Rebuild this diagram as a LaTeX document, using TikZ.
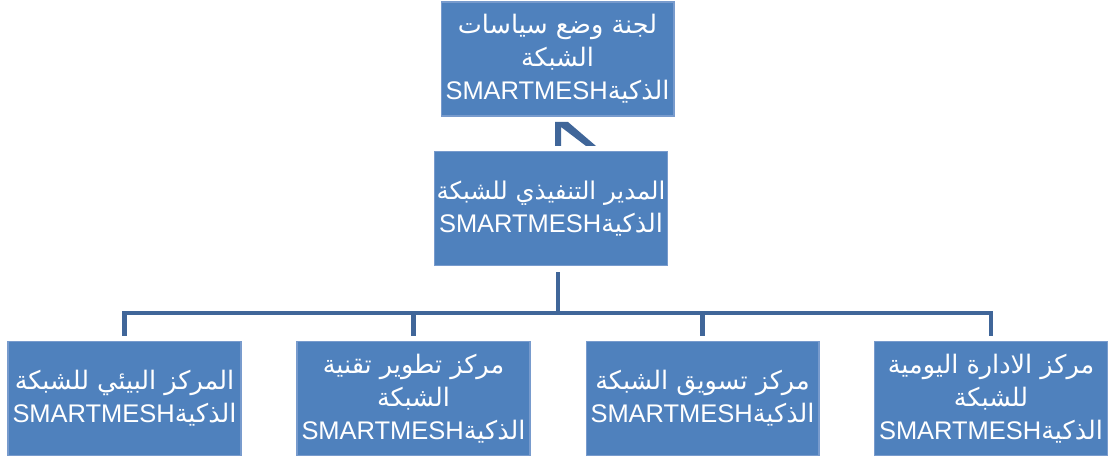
\documentclass[tikz,border=0pt]{standalone}
\usepackage{fontspec}
\usepackage{tikz}
\setmainfont{Liberation Sans}
\newfontfamily\arabicfont[Script=Arabic,Scale=1.0]{DejaVu Sans}
\TeXXeTstate=1

\definecolor{unitfill}{RGB}{79,129,189}
\definecolor{unitedge}{RGB}{120,155,205}
\definecolor{linkblue}{RGB}{64,102,153}

\newcommand{\artext}[1]{\beginR{\arabicfont #1}\endR}
\newcommand{\smline}{\beginR{\arabicfont الذكية}\beginL SMARTMESH\endL\endR}

\tikzset{
	unit/.style={draw=unitedge, line width=0.6pt, fill=unitfill, text=white,
		minimum width=4.66cm, minimum height=2.28cm, inner sep=0pt, align=center,
		font=\fontsize{14.5}{18.7}\selectfont},
	link/.style={draw=linkblue, line width=2.8pt}
}

\begin{document}
\begin{tikzpicture}[x=0.02cm,y=0.02cm]
\useasboundingbox (0,0) rectangle (1112,459);

\node[unit] (policy) at (557.5,400) {\artext{لجنة وضع سياسات}\\ \artext{الشبكة}\\ \smline};
\node[unit] (exec) at (551,250.5) {{\fontsize{13.9}{18.7}\selectfont\artext{المدير التنفيذي للشبكة}}\\ \smline};

\node[unit] (env) at (124.5,60.5) {\artext{المركز البيئي للشبكة}\\ \smline};
\node[unit] (tech) at (413.5,60.5) {\artext{مركز تطوير تقنية}\\ \artext{الشبكة}\\ \smline};
\node[unit] (market) at (702.5,60.5) {\artext{مركز تسويق الشبكة}\\ \smline};
\node[unit] (daily) at (991,60.5) {\artext{مركز الادارة اليومية}\\ \artext{للشبكة}\\ \smline};

% stub under the policy box
\fill[linkblue] (555,337) -- (568,337) -- (596,313) -- (586,313) -- (561,332) -- (561,313) -- (555,313) -- cycle;

% bus
\coordinate (bus) at (558,146);
\draw[link] (bus |- exec.south) ++(0,-6) -- (bus);
\draw[link] (env.north) ++(0,5) |- (bus);
\draw[link] (tech.north) ++(0,5) |- (bus);
\draw[link] (market.north) ++(0,5) |- (bus);
\draw[link] (daily.north) ++(0,5) |- (bus);

\end{tikzpicture}
\end{document}
